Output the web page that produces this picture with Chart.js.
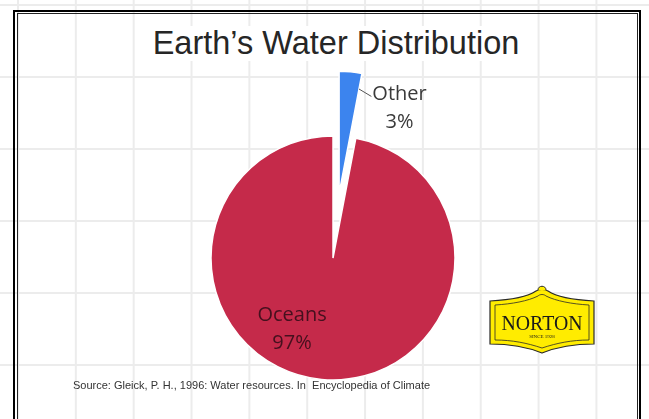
<!DOCTYPE html>
<html>
<head>
<meta charset="utf-8">
<script src="https://cdn.jsdelivr.net/npm/chart.js@4.4.1/dist/chart.umd.min.js"></script>
<style>
  html, body { margin: 0; padding: 0; }
  body {
    width: 649px; height: 419px; overflow: hidden; position: relative; background-color: #fff;
    background-image:
      linear-gradient(to right, #ececec 2px, transparent 2px),
      linear-gradient(to bottom, #ececec 2px, transparent 2px);
    background-size: 57.85px 72px;
    background-position: 17px 4px;
  }
  .frame-outer { position: absolute; left: 13px; top: 10px; width: 624px; height: 460px; border: 2.5px solid #000; }
  .frame-inner { position: absolute; left: 17px; top: 13px; width: 619px; height: 460px; border: 1.2px solid #222; }
  .title {
    position: absolute; left: 145px; top: 26px; width: 382px; height: 35px; background: #fff;
    font: 32.5px "Liberation Sans", Arial, sans-serif; line-height: 35px; text-align: center; color: #262626;
    white-space: nowrap;
  }
  .source {
    position: absolute; left: 73px; top: 379px; font: 11px "Liberation Sans", Arial, sans-serif;
    line-height: 12px; color: #333; white-space: nowrap;
  }
  #chart { position: absolute; left: 0; top: 0; }
  .logo { position: absolute; left: 485px; top: 280px; }
</style>
</head>
<body>
<div class="frame-outer"></div>
<div class="frame-inner"></div>
<div class="title">Earth’s Water Distribution</div>
<canvas id="chart" width="649" height="419"></canvas>
<div class="source">Source: Gleick, P. H., 1996: Water resources. In&nbsp; Encyclopedia of Climate</div>
<svg class="logo" width="115" height="78" viewBox="485 280 115 78">
  <path d="M490,301 C508,300 527,297 536,291 C539,289 545,289 548,291 C557,297 576,300 594,301 L594,344 C576,344 557,347 542,353 C527,347 508,344 490,344 Z" fill="#FFEC00" stroke="#2a2a2a" stroke-width="1.2"/>
  <path d="M495,305 C512,304 528,301 538,296 C540,294 544,294 546,296 C556,301 572,304 589,305 L589,340 C572,340 557,343 542,348 C527,343 512,340 495,340 Z" fill="none" stroke="#2a2a2a" stroke-width="0.8"/>
  <path d="M538,290 C538,285 546,285 546,290" fill="#FFEC00" stroke="#2a2a2a" stroke-width="1"/>
  <text x="542" y="330" text-anchor="middle" font-family="Liberation Serif, serif" font-size="22" textLength="81" lengthAdjust="spacingAndGlyphs" fill="#1a1a1a">NORTON</text>
  <text x="542" y="338" text-anchor="middle" font-family="Liberation Serif, serif" font-size="5" fill="#1a1a1a">SINCE 1928</text>
</svg>
<script>
// pie data
const labels = ['Other', 'Oceans'];
const shares = [3, 97];
const sliceColors = ['#3C84EE', '#C52A4A'];
const labelColors = ['#3a3a3a', '#45101e'];

// pull a slice out of the pie by translating it along its mid angle
const explodePlugin = {
  id: 'explode',
  beforeDatasetDraw(chart, args, opts) {
    const ctx = chart.ctx;
    args.meta.data.forEach((arc, i) => {
      const d = opts.distance[i] || 0;
      const mid = (arc.startAngle + arc.endAngle) / 2;
      ctx.save();
      ctx.translate(Math.cos(mid) * d, Math.sin(mid) * d);
      arc.draw(ctx);
      ctx.restore();
    });
    return false;
  }
};

// two-line "name / pct" labels, placed in polar coords around the pie centre
const pieLabelsPlugin = {
  id: 'pieLabels',
  afterDatasetsDraw(chart, args, opts) {
    const ctx = chart.ctx;
    const meta = chart.getDatasetMeta(0);
    const total = shares.reduce((a, b) => a + b, 0);
    const dist = chart.options.plugins.explode.distance;
    meta.data.forEach((arc, i) => {
      const p = opts.place[i];
      const a = p.angle * Math.PI / 180 - Math.PI / 2;
      const x = arc.x + Math.cos(a) * p.dist * arc.outerRadius;
      const y = arc.y + Math.sin(a) * p.dist * arc.outerRadius;
      ctx.save();
      ctx.font = '20px "Open Sans"';
      ctx.fillStyle = labelColors[i];
      ctx.textAlign = 'center';
      ctx.textBaseline = 'alphabetic';
      ctx.fillText(labels[i], x, y - 6.5);
      ctx.fillText(Math.round(shares[i] / total * 100) + '%', x, y + 21.5);
      if (p.leader) {
        const mid = (arc.startAngle + arc.endAngle) / 2;
        const ax = arc.x + Math.cos(mid) * (dist[i] || 0);
        const ay = arc.y + Math.sin(mid) * (dist[i] || 0);
        const sx = ax + Math.cos(arc.endAngle) * arc.outerRadius * 0.87;
        const sy = ay + Math.sin(arc.endAngle) * arc.outerRadius * 0.87;
        const w = ctx.measureText(labels[i]).width;
        ctx.strokeStyle = '#555';
        ctx.lineWidth = 1;
        ctx.beginPath();
        ctx.moveTo(sx, sy);
        ctx.lineTo(x - w / 2 - 1, y - 10);
        ctx.stroke();
      }
      ctx.restore();
    });
  }
};

new Chart(document.getElementById('chart').getContext('2d'), {
  type: 'pie',
  data: {
    labels,
    datasets: [{
      data: shares,
      backgroundColor: sliceColors,
      borderColor: '#fff',
      borderWidth: 1.5,
      clip: false
    }]
  },
  options: {
    responsive: false,
    animation: false,
    rotation: 0,
    radius: 122,
    layout: { padding: { left: 100, right: 83, top: 130, bottom: 33 } },
    plugins: {
      legend: { display: false },
      tooltip: { enabled: false },
      explode: { distance: [65, 0] },
      pieLabels: {
        place: [
          { angle: 23.7, dist: 1.357, leader: true },
          { angle: 210.5, dist: 0.661 }
        ]
      }
    }
  },
  plugins: [explodePlugin, pieLabelsPlugin]
});
</script>
</body>
</html>
